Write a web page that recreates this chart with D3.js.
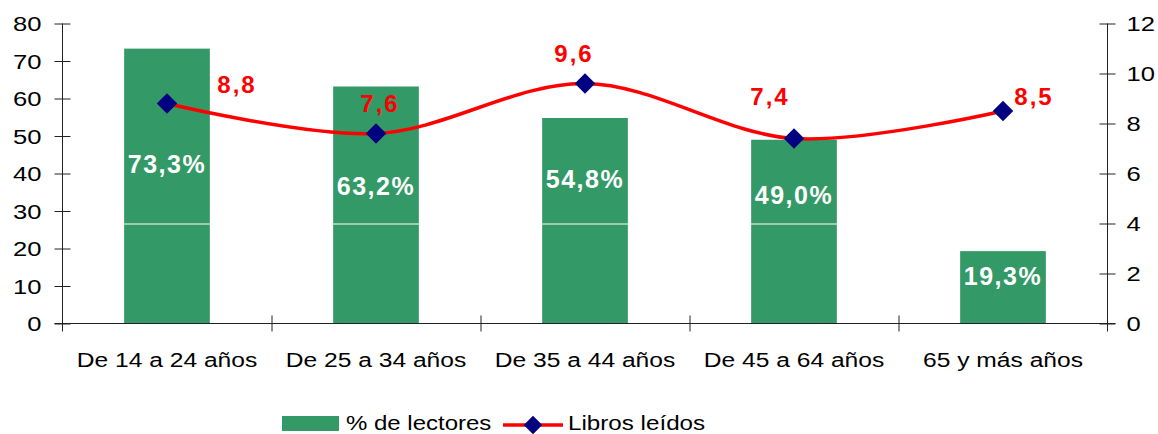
<!DOCTYPE html>
<html>
<head>
<meta charset="utf-8">
<script src="https://cdn.jsdelivr.net/npm/d3@7"></script>
<style>
  body { margin: 0; background: #fff; }
  text { font-family: "Liberation Sans", Arial, sans-serif; }
</style>
</head>
<body>
<div id="chart"></div>
<script>
// Data
const categories = ["De 14 a 24 años", "De 25 a 34 años", "De 35 a 44 años", "De 45 a 64 años", "65 y más años"];
const lectores = [73.3, 63.2, 54.8, 49.0, 19.3];   // % de lectores (left axis)
const libros = [8.8, 7.6, 9.6, 7.4, 8.5];          // Libros leídos (right axis)
const leftTicks = [0, 10, 20, 30, 40, 50, 60, 70, 80];
const rightTicks = [0, 2, 4, 6, 8, 10, 12];

// label placement tweaks (px), as in the original
const barLabelDy = [-13, -10, -33, -28, -2];
const lineLabelDx = [70, 4, -11, -24, 31];
const lineLabelDy = [-11, -22, -22, -34, -6];

const W = 1158, H = 434;
const margin = { top: 23.5, right: 50.5, bottom: 110.5, left: 62.5 };
const width = W - margin.left - margin.right;
const height = H - margin.top - margin.bottom;

const fmt = v => v.toFixed(1).replace(".", ",");

// text in the picture is a bit wider than the font
function stretch(sel, k) {
  sel.each(function() {
    const t = d3.select(this);
    const x = +t.attr("x") || 0, y = +t.attr("y") || 0;
    t.attr("x", 0).attr("y", 0)
      .attr("transform", `translate(${x},${y}) scale(${k},1)`);
  });
}

const svg = d3.select("#chart")
  .append("svg")
  .attr("width", W)
  .attr("height", H)
  .append("g")
  .attr("transform", `translate(${margin.left},${margin.top})`);

const x = d3.scaleBand()
  .domain(categories)
  .range([0, width])
  .paddingInner(0.59)
  .paddingOuter(0.295);

const yL = d3.scaleLinear().domain([0, 80]).range([height, 0]);
const yR = d3.scaleLinear().domain([0, 12]).range([height, 0]);

const cx = c => x(c) + x.bandwidth() / 2;

// bars
svg.selectAll(".bar")
  .data(categories)
  .join("rect")
  .attr("class", "bar")
  .attr("x", c => x(c))
  .attr("y", (c, i) => yL(lectores[i]))
  .attr("width", x.bandwidth())
  .attr("height", (c, i) => height - yL(lectores[i]))
  .attr("fill", "#339966");

// white gridline at 4 (only shows across the bars)
svg.append("line")
  .attr("x1", 0).attr("x2", width)
  .attr("y1", Math.round(yR(4)) + 0.5).attr("y2", Math.round(yR(4)) + 0.5)
  .attr("stroke", "#fff").attr("stroke-width", 1);

// left axis
const gL = svg.append("g")
  .call(d3.axisLeft(yL).tickValues(leftTicks).tickSize(8).tickSizeOuter(0));
gL.select(".domain").attr("d", `M0,0V${height + 8}`).attr("stroke", "#222");
gL.selectAll(".tick line").attr("x1", 8).attr("x2", -8).attr("stroke", "#222");
gL.selectAll(".tick text")
  .attr("x", null).attr("dy", "0.36em")
  .attr("transform", "translate(-21,0) scale(1.28,1)")
  .attr("font-size", 20).attr("fill", "#000");

// right axis
const gR = svg.append("g")
  .attr("transform", `translate(${width},0)`)
  .call(d3.axisRight(yR).tickValues(rightTicks).tickSize(8).tickSizeOuter(0));
gR.select(".domain").attr("d", `M0,0V${height + 8}`).attr("stroke", "#222");
gR.selectAll(".tick line").attr("x1", -8).attr("x2", 8).attr("stroke", "#222");
gR.selectAll(".tick text")
  .attr("x", null).attr("dy", "0.36em")
  .attr("transform", "translate(19,0) scale(1.28,1)")
  .attr("font-size", 20).attr("fill", "#000");

// bottom axis: line plus ticks between categories
svg.append("line")
  .attr("x1", -8).attr("x2", width + 8)
  .attr("y1", height).attr("y2", height)
  .attr("stroke", "#222");

svg.selectAll(".ctick")
  .data(d3.range(1, categories.length))
  .join("line")
  .attr("class", "ctick")
  .attr("x1", i => Math.round(i * x.step()) + 0.5)
  .attr("x2", i => Math.round(i * x.step()) + 0.5)
  .attr("y1", height - 8).attr("y2", height + 8)
  .attr("stroke", "#222");

svg.selectAll(".clabel")
  .data(categories)
  .join("text")
  .attr("class", "clabel")
  .attr("x", c => cx(c))
  .attr("y", height + 43.5)
  .attr("text-anchor", "middle")
  .attr("font-size", 20)
  .text(c => c)
  .call(stretch, 1.23);

// bar labels
svg.selectAll(".blabel")
  .data(categories)
  .join("text")
  .attr("class", "blabel")
  .attr("x", c => cx(c))
  .attr("y", (c, i) => (yL(lectores[i]) + height) / 2 + barLabelDy[i])
  .attr("text-anchor", "middle")
  .attr("font-size", 25)
  .attr("font-weight", "bold")
  .attr("letter-spacing", 1.5)
  .attr("fill", "#fff")
  .text((c, i) => fmt(lectores[i]) + "%");

// line
const line = d3.line()
  .x((d, i) => cx(categories[i]))
  .y(d => yR(d))
  .curve(d3.curveCatmullRom.alpha(0.5));

svg.append("path")
  .datum(libros)
  .attr("fill", "none")
  .attr("stroke", "#ff0000")
  .attr("stroke-width", 3.5)
  .attr("d", line);

svg.selectAll(".mark")
  .data(libros)
  .join("path")
  .attr("class", "mark")
  .attr("transform", (d, i) => `translate(${cx(categories[i])},${yR(d)}) rotate(45)`)
  .attr("d", d3.symbol().type(d3.symbolSquare).size(210))
  .attr("fill", "#000080");

svg.selectAll(".llabel")
  .data(libros)
  .join("text")
  .attr("class", "llabel")
  .attr("x", (d, i) => cx(categories[i]) + lineLabelDx[i])
  .attr("y", (d, i) => yR(d) + lineLabelDy[i])
  .attr("text-anchor", "middle")
  .attr("font-size", 24)
  .attr("font-weight", "bold")
  .attr("letter-spacing", 2)
  .attr("fill", "#ff0000")
  .text(d => fmt(d));

// legend
const legend = d3.select("svg").append("g");

legend.append("rect")
  .attr("x", 282).attr("y", 416)
  .attr("width", 57).attr("height", 15)
  .attr("fill", "#339966");

legend.append("text")
  .attr("x", 346).attr("y", 429.5)
  .attr("font-size", 20)
  .text("% de lectores")
  .call(stretch, 1.2);

legend.append("line")
  .attr("x1", 503).attr("x2", 563)
  .attr("y1", 425).attr("y2", 425)
  .attr("stroke", "#ff0000").attr("stroke-width", 3.5);

legend.append("path")
  .attr("transform", "translate(533,425) rotate(45)")
  .attr("d", d3.symbol().type(d3.symbolSquare).size(170))
  .attr("fill", "#000080");

legend.append("text")
  .attr("x", 568).attr("y", 429.5)
  .attr("font-size", 20)
  .text("Libros leídos")
  .call(stretch, 1.21);
</script>
</body>
</html>
